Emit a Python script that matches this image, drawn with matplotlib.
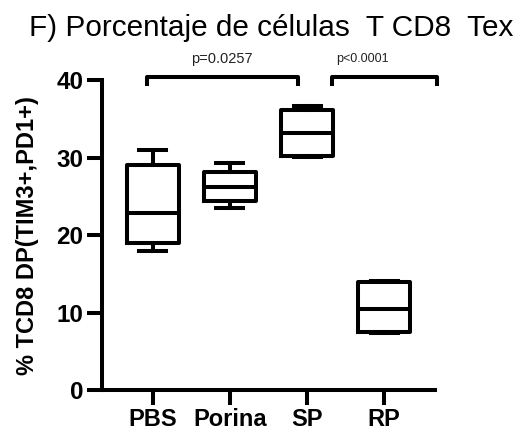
import matplotlib.pyplot as plt

plt.rcParams['font.family'] = ['Liberation Sans', 'DejaVu Sans']

grupos = ['PBS', 'Porina', 'SP', 'RP']
minimos = [17.9, 23.5, 30.1, 7.4]
q1 = [19.0, 24.4, 30.2, 7.45]
medianas = [22.9, 26.2, 33.2, 10.5]
q3 = [29.05, 28.2, 36.2, 13.9]
maximos = [31.0, 29.3, 36.7, 14.1]

comparaciones = [(0, 2, 'p=0.0257'), (2, 3, 'p<0.0001')]

fig = plt.figure(figsize=(5.27, 4.33), dpi=100)
ax = fig.add_axes([0.1935, 0.099, 0.632, 0.716])

stats = []
for i, g in enumerate(grupos):
    stats.append(dict(label=g, whislo=minimos[i], q1=q1[i], med=medianas[i],
                      q3=q3[i], whishi=maximos[i], fliers=[]))

lw = 2.9
ax.bxp(stats, positions=range(len(grupos)), widths=0.68, showfliers=False,
       boxprops=dict(color='black', linewidth=lw),
       medianprops=dict(color='black', linewidth=lw),
       whiskerprops=dict(color='black', linewidth=lw),
       capprops=dict(color='black', linewidth=lw),
       capwidths=0.35)

ax.set_xlim(-0.66, 3.66)
ax.set_ylim(0, 40)
ax.set_yticks([0, 10, 20, 30, 40])
ax.set_xticks(range(len(grupos)))
ax.set_xticklabels(grupos, fontsize=17, fontweight='bold')
for t in ax.get_yticklabels():
    t.set_fontsize(17.5)
    t.set_fontweight('bold')
ax.tick_params(axis='both', direction='out', length=10.5, width=lw, colors='black')
ax.tick_params(axis='x', pad=2.5)
ax.tick_params(axis='y', pad=3)
ax.spines['top'].set_visible(False)
ax.spines['right'].set_visible(False)
ax.spines['left'].set_linewidth(lw)
ax.spines['bottom'].set_linewidth(lw)

ax.set_ylabel('% TCD8 DP(TIM3+,PD1+)', fontsize=17, fontweight='bold')
ax.yaxis.set_label_coords(-0.19, 0.5)

# brackets
ajustes = {(0, 2): (-0.08, -0.12), (2, 3): (0.32, 0.69)}
texto_x = {(0, 2): 0.9, (2, 3): 2.72}
texto_tam = {(0, 2): 10.5, (2, 3): 9}
for a, b, txt in comparaciones:
    da, db = ajustes[(a, b)]
    x1, x2 = a + da, b + db
    y, h = 40.4, 1.1
    ax.plot([x1, x1, x2, x2], [y - h, y, y, y - h], color='black', lw=lw,
            clip_on=False, solid_capstyle='butt')
    ax.text(texto_x[(a, b)], 42.7, txt, ha='center', va='center',
            fontsize=texto_tam[(a, b)], color='#222222')

fig.text(0.515, 0.935, 'F) Porcentaje de células  T CD8  Tex', ha='center',
         va='center', fontsize=21.4)

fig.savefig('out.png', dpi=100)
